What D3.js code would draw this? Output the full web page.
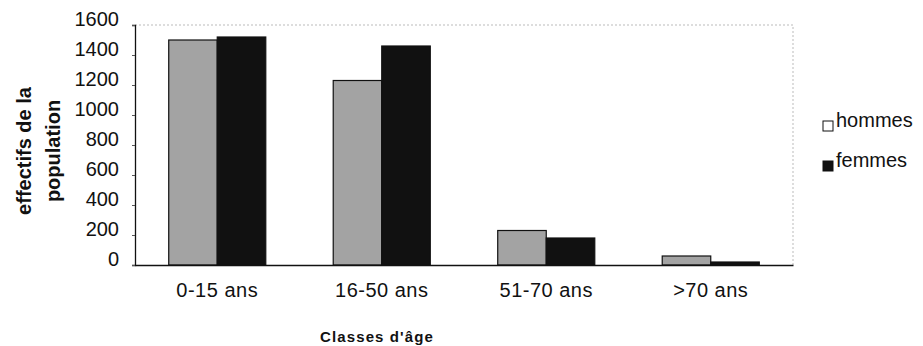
<!DOCTYPE html>
<html>
<head>
<meta charset="utf-8">
<script src="https://cdn.jsdelivr.net/npm/d3@7"></script>
<style>
  body { margin: 0; background: #fff; }
  svg { display: block; }
  text { font-family: "Liberation Sans", Arial, sans-serif; fill: #111; }
</style>
</head>
<body>
<svg width="923" height="346"></svg>
<script>
var categories = ["0-15 ans", "16-50 ans", "51-70 ans", ">70 ans"];
var series = ["hommes", "femmes"];
var hommes = [1500, 1230, 230, 60];
var femmes = [1520, 1460, 180, 20];
var yTicks = [0, 200, 400, 600, 800, 1000, 1200, 1400, 1600];

var svg = d3.select("svg");
var mLeft = 135, mRight = 793, mTop = 25, mBottom = 265;

var x0 = d3.scaleBand().domain(categories).range([mLeft, mRight])
    .paddingInner(0.41).paddingOuter(0.205);
var x1 = d3.scaleBand().domain(series).range([0, x0.bandwidth()]);
var y = d3.scaleLinear().domain([0, 1600]).range([mBottom, mTop]);
var fill = d3.scaleOrdinal().domain(series).range(["#a3a3a3", "#111111"]);

// frame: dotted top and right
svg.append("path")
    .attr("d", "M" + mLeft + "," + mTop + "H" + mRight + "V" + mBottom)
    .attr("fill", "none")
    .attr("stroke", "#bbb")
    .attr("stroke-dasharray", "2,2");

var rows = categories.map(function (c, i) {
  return { cat: c, vals: [ { k: "hommes", v: hommes[i] }, { k: "femmes", v: femmes[i] } ] };
});

var g = svg.append("g").selectAll("g")
    .data(rows)
    .enter().append("g")
    .attr("transform", function (d) { return "translate(" + x0(d.cat) + ",0)"; });

g.selectAll("rect")
    .data(function (d) { return d.vals; })
    .enter().append("rect")
    .attr("x", function (d) { return x1(d.k); })
    .attr("y", function (d) { return y(d.v); })
    .attr("width", x1.bandwidth())
    .attr("height", function (d) { return y(0) - y(d.v); })
    .attr("fill", function (d) { return fill(d.k); })
    .attr("stroke", "#111")
    .attr("stroke-width", 1.2);

// y axis
var yAxis = svg.append("g")
    .attr("transform", "translate(" + mLeft + ",0)")
    .call(d3.axisLeft(y).tickValues(yTicks).tickSize(3).tickPadding(13).tickFormat(d3.format("d")));
yAxis.select(".domain").attr("stroke", "#111").attr("stroke-width", 1.3);
yAxis.selectAll(".tick line").attr("stroke", "#555");
yAxis.selectAll("text")
    .attr("dy", "0.02em")
    .style("font-family", "Liberation Sans, Arial, sans-serif")
    .style("font-size", "20px")
    .attr("fill", "#111");

// x axis
var xAxis = svg.append("g")
    .attr("transform", "translate(0," + mBottom + ")")
    .call(d3.axisBottom(x0).tickSize(0).tickPadding(18));
xAxis.select(".domain").attr("stroke", "#111").attr("stroke-width", 1.3);
xAxis.selectAll("text")
    .style("font-family", "Liberation Sans, Arial, sans-serif")
    .style("font-size", "20px")
    .style("letter-spacing", "0.5px")
    .attr("fill", "#111");

// axis titles
svg.append("text")
    .attr("x", 377).attr("y", 342)
    .attr("text-anchor", "middle")
    .style("font-size", "15px").style("font-weight", "bold")
    .style("letter-spacing", "1.1px")
    .text("Classes d'âge");

var yt = svg.append("text")
    .attr("transform", "translate(31,151) rotate(-90)")
    .attr("text-anchor", "middle")
    .style("font-size", "20px").style("font-weight", "bold");
yt.append("tspan").attr("x", 0).attr("dy", 0).text("effectifs de la");
yt.append("tspan").attr("x", 0).attr("dy", "1.45em").text("population");

// legend
var leg = svg.append("g").selectAll("g")
    .data(series)
    .enter().append("g")
    .attr("transform", function (d, i) { return "translate(823," + (121 + i * 40) + ")"; });
leg.append("rect")
    .attr("width", 10).attr("height", 10)
    .attr("fill", function (d) { return d === "hommes" ? "#fff" : fill(d); })
    .attr("stroke", "#111");
leg.append("text")
    .attr("x", 13).attr("y", 6)
    .style("font-size", "20px")
    .text(function (d) { return d; });
</script>
</body>
</html>
